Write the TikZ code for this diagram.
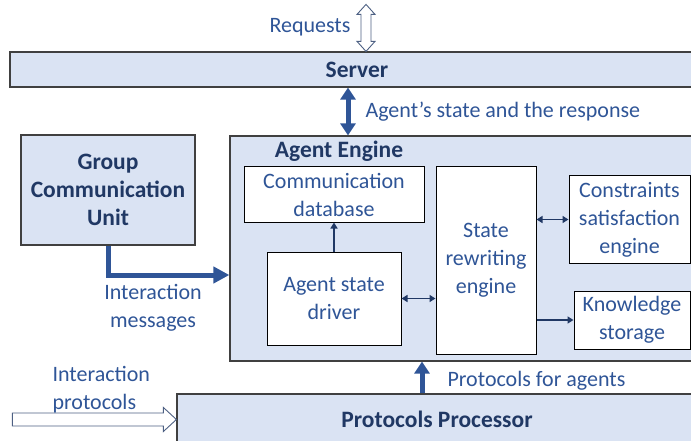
\documentclass[tikz,border=0pt]{standalone}
\usepackage{fontspec}
\setmainfont{Carlito}
\usetikzlibrary{arrows.meta}

\definecolor{boxblue}{HTML}{DAE3F3}
\definecolor{textblue}{HTML}{2F5597}
\definecolor{darknavy}{HTML}{203864}

\begin{document}
\begin{tikzpicture}[x=1pt,y=-1pt,
  every node/.style={font=\fontsize{22}{28}\selectfont, text=textblue},
  bluebox/.style={draw=black!75, line width=1.2pt, fill=boxblue, rectangle, inner sep=0pt},
  whitebox/.style={draw=black, line width=1pt, fill=white, rectangle, inner sep=0pt, align=center},
  title/.style={font=\fontsize{23.5}{28}\selectfont\bfseries, text=darknavy, align=center},
  bigarrow/.style={draw=textblue, line width=5pt},
  smallarrow/.style={draw=darknavy, line width=1.8pt},
  hollowline/.style={draw=darknavy!80, fill=white, line width=0.9pt, line join=miter},
  ]
\useasboundingbox (0,0) rectangle (691,441);
\clip (0,0) rectangle (691,441);

\node [bluebox, title, minimum width=694, minimum height=35] (server) at (357,69.5) {Server};
\node [bluebox, minimum width=475, minimum height=225] (engine) at (467.5,248.5) {};
\node [title] (enginetitle) at (339,151) {Agent Engine};
\node [bluebox, title, minimum width=174, minimum height=110] (gcu) at (108,190) {Group\\Communication\\Unit};
\node [whitebox, minimum width=180, minimum height=55] (commdb) at (334,194.5) {Communication\\database};
\node [whitebox, minimum width=134, minimum height=93] (driver) at (334,298.5) {Agent state\\driver};
\node [whitebox, minimum width=100, minimum height=187] (sre) at (486,260.5) {State\\rewriting\\engine};
\node [whitebox, minimum width=121, minimum height=87] (cse) at (629.5,219.5) {Constraints\\satisfaction\\engine};
\node [whitebox, minimum width=116, minimum height=58] (ks) at (632,320) {Knowledge\\storage};
\node [bluebox, title, minimum width=520, minimum height=51] (proc) at (437,419.5) {Protocols Processor};

% where the thick arrows run
\coordinate (reqx) at (366,0);
\coordinate (stx) at (348,0);
\coordinate (gcuturn) at (108,275);
\coordinate (ppx) at (422,0);

% hollow arrows, drawn from their tips
\draw [hollowline] (server.north -| reqx) -- ++(-9,-10) -- ++(4,0) -- ++(0,-27) -- ++(-4,0) -- ++(9,-10)
  -- ++(9,10) -- ++(-4,0) -- ++(0,27) -- ++(4,0) -- cycle;
\draw [hollowline] (proc.west) -- ++(-13,-12) -- ++(0,5.5) -- ++(-151,0) -- ++(0,13) -- ++(151,0) -- ++(0,5.5) -- cycle;

\draw [bigarrow, {Triangle[length=12pt,width=15pt]}-{Triangle[length=12pt,width=15pt]}] (server.south -| stx) -- (engine.north -| stx);
\draw [bigarrow, -{Triangle[length=16pt,width=16pt]}] (gcu.south) |- (engine.west |- gcuturn);
\draw [bigarrow, -{Triangle[length=12pt,width=15pt]}] (proc.north -| ppx) -- (engine.south -| ppx);

\draw [smallarrow, -{Triangle[length=6pt,width=7pt]}] (driver.north) -- (commdb.south);
\draw [smallarrow, {Triangle[length=6pt,width=7pt]}-{Triangle[length=6pt,width=7pt]}] (driver.east) -- (sre.west |- driver.east);
\draw [smallarrow, {Triangle[length=6pt,width=7pt]}-{Triangle[length=6pt,width=7pt]}] (sre.east |- cse.west) -- (cse.west);
\draw [smallarrow, -{Triangle[length=6pt,width=7pt]}] (sre.east |- ks.west) -- (ks.west);

\node (lblreq) at (310,27) {Requests};
\node [anchor=west] (lblstate) at (362,112) {Agent’s state and the response};
\node [align=center] (lblmsg) at (153,308) {Interaction\\messages};
\node [anchor=west] (lblpfa) at (444,381) {Protocols for agents};
\node [align=left, anchor=west] (lblip) at (49,390) {Interaction\\protocols};

\end{tikzpicture}
\end{document}
